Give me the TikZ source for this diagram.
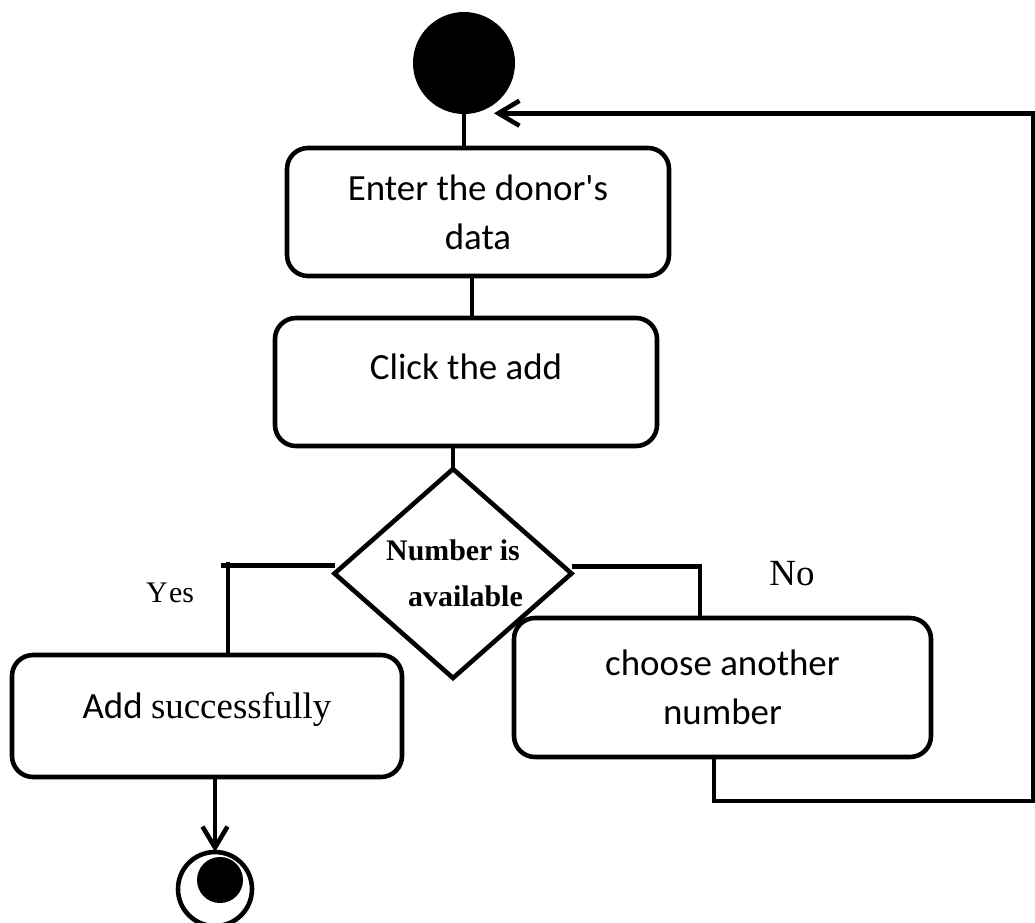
\documentclass[tikz,border=0pt]{standalone}
\usepackage{fontspec}
\setmainfont{Liberation Serif}
\newfontfamily\calibri{Carlito}
\usetikzlibrary{positioning,shapes.geometric,arrows.meta}

\begin{document}
\begin{tikzpicture}[
	line width=2.6pt,
	every node/.style={outer sep=0pt},
	action/.style={rectangle, rounded corners=0.42cm, draw=black, align=center, font=\calibri\fontsize{21}{28}\selectfont},
	decision/.style={diamond, draw=black, align=center, inner sep=0pt, minimum width=4.74cm, minimum height=4.18cm, font=\bfseries\fontsize{17}{26}\selectfont},
	initial/.style={circle, fill=black, minimum size=2.04cm, inner sep=0pt},
	final/.style={circle, draw=black, minimum size=1.48cm, inner sep=0pt, path picture={\fill ([shift={(0.1cm,0.18cm)}]path picture bounding box.center) circle (0.46cm);}},
	guard/.style={font=\fontsize{17}{19}\selectfont},
	flow/.style={-{Straight Barb[length=0.42cm, width=0.5cm]}}
	]
	\useasboundingbox (0,0) rectangle (20.7,-18.44);

		\node (start) [initial] at (9.28,-1.26) {};
			\node (enter) [action, minimum width=7.64cm, minimum height=2.56cm, below=0.68cm of start, xshift=0.28cm] {Enter the donor's\\data};
			\node (click) [action, minimum width=7.64cm, minimum height=2.56cm, text depth=0.6cm, below=0.84cm of enter, xshift=-0.24cm] {Click the add};
			\node (check) [decision, below=0.46cm of click, xshift=-0.26cm] {Number is\\\hspace*{0.5cm}available};
				\node (addok) [action, minimum width=7.8cm, minimum height=2.44cm, text depth=0.42cm] at (4.14,-14.32) {Add {\rmfamily successfully}};
				\node (choose) [action, minimum width=8.34cm, minimum height=2.78cm] at (14.45,-13.75) {choose another\\number};
				\node (yes) [guard] at (3.4,-11.86) {Y\kern0.05em es};
				\node (no) [guard, font=\fontsize{21}{23}\selectfont] at (15.84,-11.48) {No};
				\node (done) [final] at (4.3,-17.78) {};
		\coordinate (back) at (20.66,-16.02);

	\draw (start.south) -- (start.south |- enter.north);
	\draw ([xshift=-0.12cm]enter.south) -- ([xshift=-0.12cm]enter.south |- click.north);
	\draw (check.north |- click.south) -- (check.north);

	\draw ([yshift=0.16cm]check.west) -- ++(-2.28,0);
	\draw ([xshift=0.42cm]addok.north) -- ++(0,1.86);
	\draw ([yshift=0.14cm]check.east) -| ([xshift=-0.45cm]choose.north);

	\draw [flow] (done.north |- addok.south) -- (done.north);
	\draw [flow] ([xshift=-0.17cm]choose.south) |- (back) |- ([yshift=-0.18cm]start.-54);

\end{tikzpicture}
\end{document}
